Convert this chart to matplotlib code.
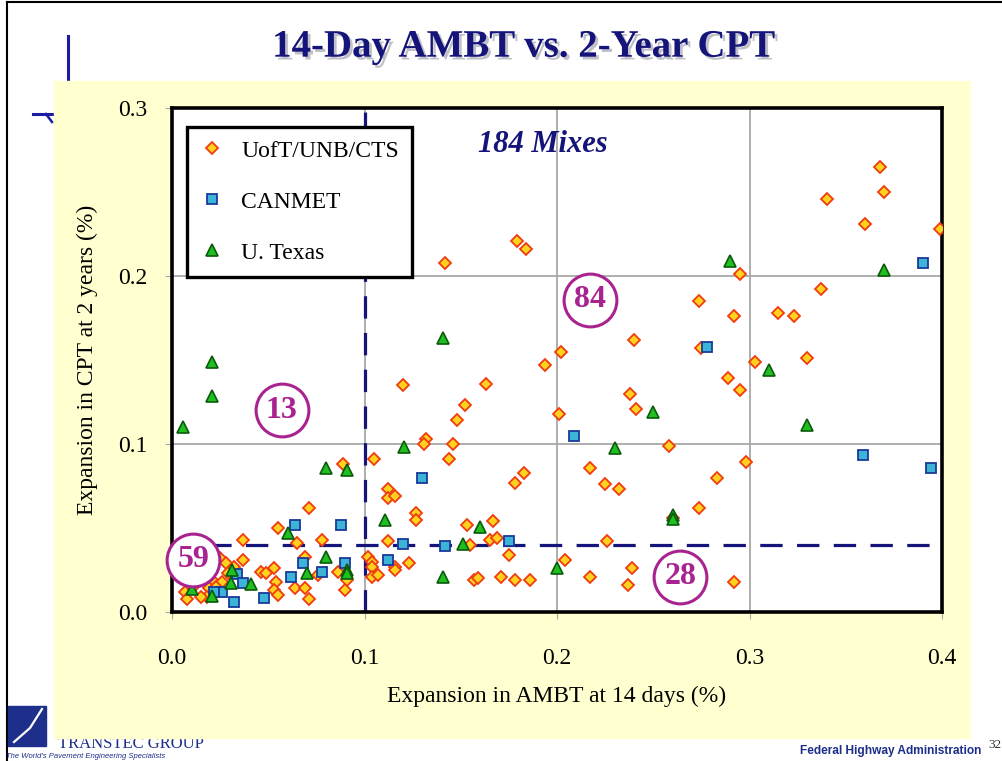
import numpy as np
import matplotlib
matplotlib.use("Agg")
import matplotlib.pyplot as plt
import matplotlib.patheffects as pe
from matplotlib.patches import Rectangle

plt.rcParams['font.family'] = ['Liberation Serif', 'DejaVu Serif']

# UofT/UNB/CTS mixes (AMBT 14 d, CPT 2 yr), percent expansion
uoft_x = [0.368, 0.370, 0.340, 0.360, 0.399, 0.179, 0.184, 0.142, 0.295, 0.337,
          0.274, 0.315, 0.323, 0.292, 0.240, 0.202, 0.275, 0.303, 0.330, 0.194,
          0.289, 0.120, 0.163, 0.238, 0.295, 0.241, 0.152, 0.148, 0.201, 0.132,
          0.131, 0.146, 0.258, 0.105, 0.144, 0.298, 0.217, 0.183, 0.283, 0.178,
          0.225, 0.232, 0.112, 0.112, 0.116, 0.274, 0.127, 0.127, 0.260, 0.153,
          0.167, 0.112, 0.155, 0.165, 0.169, 0.226, 0.175, 0.102, 0.104, 0.104,
          0.104, 0.107, 0.116, 0.116, 0.123, 0.157, 0.159, 0.171, 0.178, 0.186,
          0.204, 0.217, 0.239, 0.237, 0.292,
          0.089, 0.071, 0.055, 0.037, 0.065, 0.078, 0.037, 0.069, 0.053, 0.046,
          0.049, 0.054, 0.053, 0.055, 0.064, 0.069, 0.071, 0.076, 0.086, 0.091,
          0.090, 0.025, 0.028, 0.029, 0.022, 0.026, 0.019, 0.018, 0.007, 0.008,
          0.023, 0.015, 0.017, 0.020, 0.013, 0.032, 0.012]
uoft_y = [0.265, 0.250, 0.246, 0.231, 0.228, 0.221, 0.216, 0.208, 0.201, 0.192,
          0.185, 0.178, 0.176, 0.176, 0.162, 0.155, 0.157, 0.149, 0.151, 0.147,
          0.139, 0.135, 0.136, 0.130, 0.132, 0.121, 0.123, 0.114, 0.118, 0.103,
          0.100, 0.100, 0.099, 0.091, 0.091, 0.089, 0.086, 0.083, 0.080, 0.077,
          0.076, 0.073, 0.073, 0.068, 0.069, 0.062, 0.059, 0.055, 0.056, 0.052,
          0.054, 0.042, 0.040, 0.043, 0.044, 0.042, 0.034, 0.033, 0.030, 0.027,
          0.021, 0.022, 0.027, 0.025, 0.029, 0.019, 0.020, 0.021, 0.019, 0.019,
          0.031, 0.021, 0.026, 0.016, 0.018,
          0.088, 0.062, 0.050, 0.043, 0.041, 0.043, 0.031, 0.033, 0.026, 0.024,
          0.023, 0.018, 0.013, 0.010, 0.014, 0.014, 0.008, 0.022, 0.024, 0.019,
          0.013, 0.032, 0.029, 0.023, 0.018, 0.018, 0.014, 0.009, 0.012, 0.008,
          0.015, 0.009, 0.022, 0.025, 0.020, 0.027, 0.016]

# CANMET mixes
canmet_x = [0.390, 0.278, 0.209, 0.359, 0.3945, 0.130, 0.120, 0.142, 0.175, 0.112,
            0.064, 0.088, 0.068, 0.078, 0.062, 0.090, 0.048, 0.034, 0.037, 0.026,
            0.022, 0.032]
canmet_y = [0.2075, 0.1575, 0.105, 0.0935, 0.0857, 0.080, 0.0405, 0.039, 0.042, 0.031,
            0.0518, 0.0518, 0.0293, 0.024, 0.021, 0.029, 0.0082, 0.0226, 0.0175, 0.0121,
            0.012, 0.006]

# U. Texas mixes
texas_x = [0.141, 0.250, 0.230, 0.1205, 0.1105, 0.160, 0.151, 0.1406, 0.200, 0.290,
           0.370, 0.310, 0.330, 0.260, 0.260, 0.0206, 0.0206, 0.0056, 0.080, 0.0907,
           0.060, 0.080, 0.070, 0.0907, 0.0907, 0.031, 0.0306, 0.041, 0.0106, 0.021]
texas_y = [0.163, 0.119, 0.0974, 0.0984, 0.0548, 0.0508, 0.0403, 0.0206, 0.0262, 0.2091,
           0.2036, 0.144, 0.1113, 0.0577, 0.0556, 0.1486, 0.1286, 0.110, 0.0859, 0.0845,
           0.0472, 0.0329, 0.0234, 0.025, 0.023, 0.025, 0.0175, 0.0167, 0.0135, 0.0095]

# mixes counted in each quadrant
region_count = ["13", "84", "59", "28"]
region_x = [0.057, 0.217, 0.011, 0.264]
region_y = [0.120, 0.186, 0.031, 0.021]

ambt_limit = 0.10
cpt_limit = 0.04

navy = "#14147a"
magenta = "#a8238f"

fig = plt.figure(figsize=(10.03, 7.61), dpi=100)

# slide background in pixel units
bg = fig.add_axes([0, 0, 1, 1], zorder=-1)
bg.set_xlim(0, 1003)
bg.set_ylim(761, 0)
bg.axis("off")
bg.plot([7, 7], [2, 761], color="black", lw=1.5)
bg.plot([7, 1003], [2, 2], color="black", lw=1.5)
bg.plot([68, 68], [36, 90], color="#1c1ca0", lw=2.2)
bg.plot([33, 56], [114, 114], color="#1c1ca0", lw=2.2)
bg.plot([46, 52], [114, 122], color="#1c1ca0", lw=1.8)
bg.add_patch(Rectangle((8, 706), 38, 40, color="#1d2f8a", zorder=2))
bg.plot([14, 30, 42], [742, 728, 709], color="white", lw=1.6, zorder=3)
bg.text(58, 744, "TRANSTEC GROUP", fontsize=12, color="#1d2f8a", va="center",
        family="Liberation Serif", zorder=2)
bg.text(6, 756, "The World's Pavement Engineering Specialists", fontsize=5.5,
        style="italic", color="#1d2f8a", va="center", family="Liberation Sans")
bg.text(800, 751, "Federal Highway Administration", fontsize=8.6, weight="bold",
        color="#1d2f8a", va="center", family="Liberation Sans")
bg.text(988, 745, "32", fontsize=9.5, color="#333333", va="center")
bg.add_patch(Rectangle((54, 81), 916, 657, color="#ffffd0", zorder=5))

fig.text(0.522, 0.938, "14-Day AMBT vs. 2-Year CPT", ha="center", va="center",
         fontsize=28, weight="bold", color=navy,
         path_effects=[pe.withSimplePatchShadow(offset=(2, -2), alpha=0.25)])

ax = fig.add_axes([0.1715, 0.1958, 0.7677, 0.6623])
ax.set_facecolor("white")
ax.set_xlim(0, 0.4)
ax.set_ylim(0, 0.3)
ax.set_xticks(np.arange(0, 0.41, 0.1))
ax.set_yticks(np.arange(0, 0.31, 0.1))
ax.set_xticklabels(["0.0", "0.1", "0.2", "0.3", "0.4"])
ax.set_yticklabels(["0.0", "0.1", "0.2", "0.3"])
ax.grid(True, color="#a8a8a8", lw=1.3)
ax.set_axisbelow(True)
ax.tick_params(axis="both", direction="out", length=5, color="#a8a8a8", labelsize=17)
ax.tick_params(axis="x", pad=21)
ax.tick_params(axis="y", pad=13)
for s in ax.spines.values():
    s.set_linewidth(2.6)
    s.set_color("black")
ax.set_xlabel("Expansion in AMBT at 14 days (%)", fontsize=17, labelpad=12)
ax.set_ylabel("Expansion in CPT at 2 years (%)", fontsize=17, labelpad=14)

ax.axvline(ambt_limit, color=navy, lw=2.3, linestyle=(0, (7, 4.5)), zorder=2)
ax.axhline(cpt_limit, color=navy, lw=2.3, linestyle=(0, (7, 4.5)), zorder=2)

ax.plot(uoft_x, uoft_y, "D", ms=6.3, mfc="#ffd21f", mec="#f03c0f", mew=1.3,
        label="UofT/UNB/CTS", zorder=3)
ax.plot(canmet_x, canmet_y, "s", ms=6.5, mfc="#3cb4d8", mec="#1a3a9a", mew=1.3,
        label="CANMET", zorder=3)
ax.plot(texas_x, texas_y, "^", ms=8.5, mfc="#1fbf1f", mec="#0b5a0b", mew=1.2,
        label="U. Texas", zorder=3)

for lab, rx, ry in zip(region_count, region_x, region_y):
    ax.plot(rx, ry, "o", ms=38, mfc="white", mec=magenta, mew=2.2, zorder=6,
            clip_on=False)
    ax.text(rx, ry, lab, ha="center", va="center", fontsize=23, weight="bold",
            color=magenta, zorder=7)

ax.text(0.1927, 0.278, "184 Mixes", ha="center", va="center", fontsize=22,
        weight="bold", style="italic", color=navy, zorder=4)

leg = ax.legend(loc="upper left", bbox_to_anchor=(0.0195, 0.962), borderaxespad=0,
                fontsize=17, frameon=True, fancybox=False, edgecolor="black",
                framealpha=1, labelspacing=1.25, handlelength=1.0,
                handletextpad=0.75, borderpad=0.55)
leg.get_frame().set_linewidth(2.4)
leg.set_zorder(8)

fig.savefig("out.png", dpi=100)
